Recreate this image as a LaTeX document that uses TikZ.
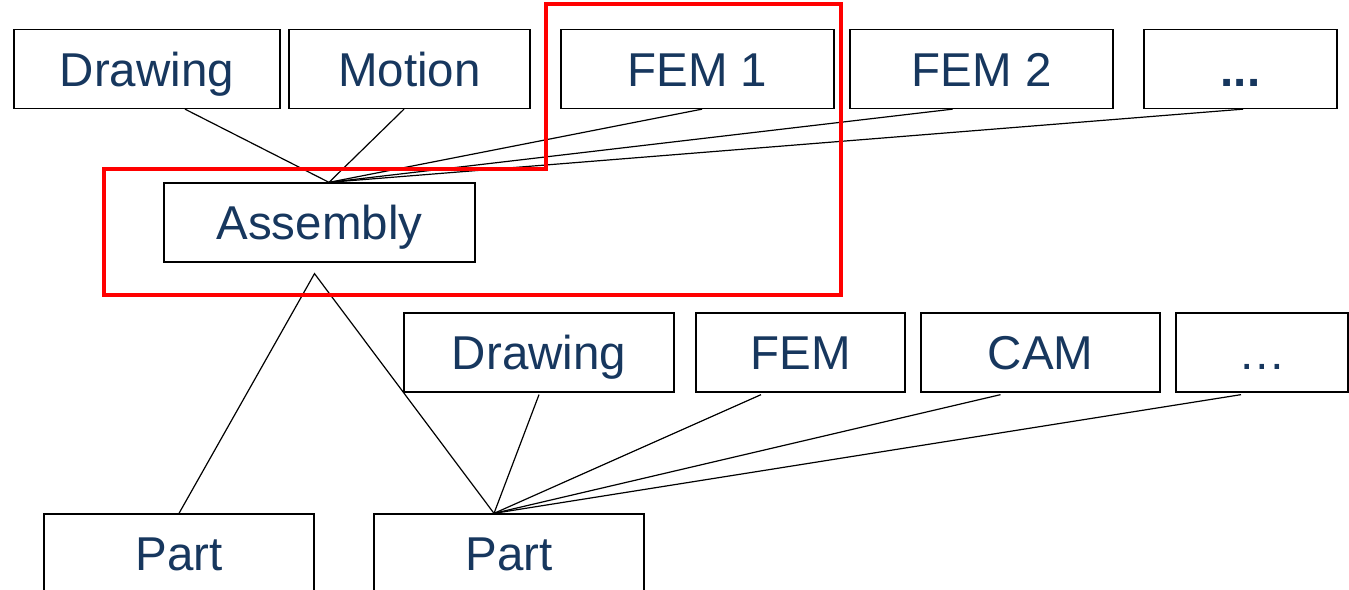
\documentclass[tikz,border=0pt]{standalone}
\usepackage{fontspec}
\setmainfont{Liberation Sans}
\definecolor{labelblue}{RGB}{23,55,94}
\definecolor{framered}{RGB}{255,0,0}
\begin{document}
\begin{tikzpicture}[x=1pt,y=-1pt,
  item/.style={draw=black,line width=1.3pt,rectangle,inner sep=0pt,
    minimum height=79pt,text height=34pt,text depth=0pt,
    font=\fontsize{47.5}{57}\selectfont,text=labelblue},
  link/.style={draw=black,line width=1.2pt},
  frame/.style={draw=framered,line width=4pt,line join=miter}]
\useasboundingbox (0,0) rectangle (1349,589);

% top row: documents attached to the assembly
\node[item,minimum width=266pt] (drw1)  at (147,69)    {Drawing};
\node[item,minimum width=241pt] (mot)   at (409.5,69)  {Motion};
\node[item,minimum width=273pt] (fem1)  at (697.5,69)  {FEM 1};
\node[item,minimum width=263pt] (fem2)  at (981.5,69)  {FEM 2};
\node[item,minimum width=193pt] (dots1) at (1240.5,69) {\textbf{...}};

% assembly
\node[item,minimum width=311pt] (asm) at (319.5,222.5) {Assembly};

% second row: documents attached to a part
\node[item,minimum width=270pt] (drw2)  at (539,352.5)    {Drawing};
\node[item,minimum width=209pt] (fem)   at (800.5,352.5)  {FEM};
\node[item,minimum width=239pt] (cam)   at (1040.5,352.5) {CAM};
\node[item,minimum width=172pt] (dots2) at (1262,352.5)   {…};

% parts
\node[item,minimum width=270pt] (part1) at (179,553.5) {Part};
\node[item,minimum width=270pt] (part2) at (509,553.5) {Part};

% junction points
\coordinate (asmtop) at ([xshift=9.5pt]asm.north);
\coordinate (apex)   at ([xshift=-5pt,yshift=-11pt]asm.south);
\coordinate (parttop) at ([xshift=-15pt]part2.north);

% assembly links
\draw[link] ([xshift=38pt]drw1.south) -- (asmtop);
\draw[link] ([xshift=-5.5pt]mot.south) -- (asmtop);
\draw[link] ([xshift=4.5pt]fem1.south) -- (asmtop);
\draw[link] ([xshift=-29pt]fem2.south) -- (asmtop);
\draw[link] ([xshift=2.5pt]dots1.south) -- (asmtop);

% assembly structure
\draw[link] (part1.north) -- (apex) -- (parttop);

% part links
\draw[link] (parttop) -- ([yshift=-2pt]drw2.south);
\draw[link] (parttop) -- ([xshift=-39.5pt,yshift=-2pt]fem.south);
\draw[link] (parttop) -- ([xshift=-40pt,yshift=-2pt]cam.south);
\draw[link] (parttop) -- ([xshift=-21pt,yshift=-2pt]dots2.south);

% highlight outline
\draw[frame] (546,4) -- (841,4) -- (841,295) -- (104,295) -- (104,169) -- (546,169) -- cycle;
\end{tikzpicture}
\end{document}
